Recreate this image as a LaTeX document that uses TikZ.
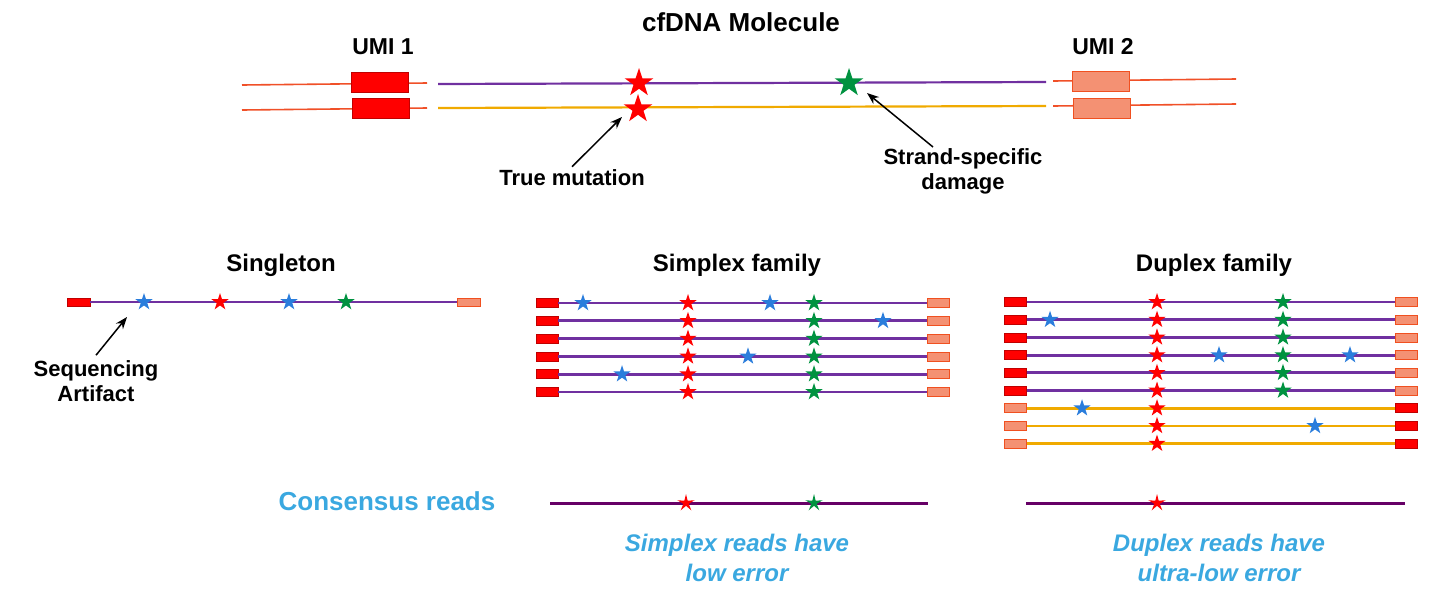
\documentclass[tikz,border=0pt]{standalone}
\usepackage{fontspec}
\setmainfont{Liberation Sans}
\usetikzlibrary{shapes.geometric,arrows.meta}
\definecolor{umired}{RGB}{255,0,0}
\definecolor{umiedge}{RGB}{192,0,0}
\definecolor{salmon}{RGB}{244,145,115}
\definecolor{salmonedge}{RGB}{240,80,32}
\definecolor{adapter}{RGB}{240,80,40}
\definecolor{topstrand}{RGB}{112,48,160}
\definecolor{botstrand}{RGB}{240,170,0}
\definecolor{consline}{RGB}{102,0,102}
\definecolor{damgreen}{RGB}{0,146,64}
\definecolor{errblue}{RGB}{42,125,220}
\definecolor{noteblue}{RGB}{58,168,224}
\begin{document}
\begin{tikzpicture}[x=1pt,y=-1pt,
    umiA/.style={draw=umiedge,fill=umired,line width=0.8pt,minimum width=22pt,minimum height=9pt,inner sep=0pt},
    umiB/.style={draw=salmonedge,fill=salmon,line width=0.8pt,minimum width=22pt,minimum height=9pt,inner sep=0pt},
    bigumi/.style={minimum width=57pt,minimum height=20pt},
    mut/.style={star,star points=5,star point ratio=2.6,inner sep=0pt,minimum size=18pt,fill=#1},
    bigmut/.style={mut=#1,minimum size=30pt},
    consmut/.style={mut=#1,star point ratio=3.2,minimum size=18pt},
    adapt/.style={adapter,line width=1.6pt},
    wline/.style={topstrand,line width=2.2pt},
    cline/.style={botstrand,line width=2.2pt},
    readw/.style={topstrand,line width=2.8pt},
    readc/.style={botstrand,line width=2.8pt},
    consread/.style={consline,line width=3pt},
    title/.style={font=\fontsize{24}{28}\selectfont\bfseries,inner sep=0pt},
    lbl/.style={font=\fontsize{22}{25}\selectfont\bfseries,align=center,inner sep=1pt},
    note/.style={font=\fontsize{24}{30}\selectfont\bfseries\itshape,text=noteblue,align=center,inner sep=0pt},
    pointer/.style={-{Stealth[length=12pt,width=9pt]},line width=1.5pt}]
\useasboundingbox (0,0) rectangle (1455,614);

% the cfDNA molecule
\node[title,font=\fontsize{26}{30}\selectfont\bfseries] (mol) at (741,22) {cfDNA Molecule};
\node[title,font=\fontsize{23}{28}\selectfont\bfseries] (u1) at (383,47) {UMI 1};
\node[title,font=\fontsize{23}{28}\selectfont\bfseries] (u2) at (1103,47) {UMI 2};
\coordinate (a1) at (242,85); \coordinate (a2) at (427,83);
\coordinate (a3) at (242,110); \coordinate (a4) at (427,108);
\coordinate (b1) at (1053,81); \coordinate (b2) at (1236,79);
\coordinate (b3) at (1053,106); \coordinate (b4) at (1236,104);
\coordinate (w1) at (438,84); \coordinate (w2) at (1046,82);
\coordinate (c1) at (438,108); \coordinate (c2) at (1046,106);
\draw[adapt] (a1) -- (a2);
\draw[adapt] (a3) -- (a4);
\draw[adapt] (b1) -- (b2);
\draw[adapt] (b3) -- (b4);
\draw[wline] (w1) -- (w2);
\draw[cline] (c1) -- (c2);
\node[umiA,bigumi] (k1) at (380,82) {};
\node[umiA,bigumi] (k2) at (380.5,108) {};
\node[umiB,bigumi] (k3) at (1101,81) {};
\node[umiB,bigumi] (k4) at (1102,108) {};
\node[bigmut=umired] (tw) at (639,83) {};
\node[bigmut=umired] (tc) at (638,109) {};
\node[bigmut=damgreen] (dw) at (849,83) {};
\node[lbl] (tm) at (572,178) {True mutation};
\node[lbl] (sd) at (963,171) {Strand-specific\\damage};
\coordinate (tmtip) at (622,117);
\coordinate (sdtip) at (867,93);
\draw[pointer] ([yshift=2pt]tm.north) -- (tmtip);
\draw[pointer] ([xshift=-30pt]sd.north) -- (sdtip);

% singleton
\node[title] (sgt) at (281,265) {Singleton};
\node[umiA,minimum width=23pt,minimum height=8pt] (gl) at (78.5,302) {};
\node[umiB,minimum width=23pt,minimum height=8pt] (gr) at (469,302) {};
\draw[readw] (gl) -- (gr);
\node[mut=errblue] (g1) at (144,302) {};
\node[mut=umired] (g2) at (220,302) {};
\node[mut=errblue] (g3) at (289,302) {};
\node[mut=damgreen] (g4) at (346,302) {};
\node[lbl] (sa) at (96,381) {Sequencing\\Artifact};
\coordinate (satip) at (127,317);
\draw[pointer] ([yshift=4pt]sa.north) -- (satip);

% simplex family
\node[title] (smp) at (737,265) {Simplex family};
\foreach \i in {0,...,5}{
  \pgfmathsetmacro\yy{303+17.8*\i}
  \node[umiA] (sl\i) at (547,\yy) {};
  \node[umiB] (sr\i) at (938,\yy) {};
  \draw[readw] (sl\i) -- (sr\i);
  \node[mut=umired] (sm\i) at (688,\yy) {};
  \node[mut=damgreen] (sg\i) at (814,\yy) {};
}
\foreach \xx/\i [count=\n] in {583/0,770/0,883/1,748/3,622/4}
  \node[mut=errblue] (se\n) at (\xx,303+17.8*\i) {};

% duplex family
\node[title] (dup) at (1214,265) {Duplex family};
\foreach \i in {0,...,5}{
  \pgfmathsetmacro\yy{302+17.7*\i}
  \node[umiA] (dl\i) at (1015.5,\yy) {};
  \node[umiB] (dr\i) at (1406,\yy) {};
  \draw[readw] (dl\i) -- (dr\i);
  \node[mut=umired] (dm\i) at (1157,\yy) {};
  \node[mut=damgreen] (dg\i) at (1283,\yy) {};
}
\foreach \i in {6,7,8}{
  \pgfmathsetmacro\yy{302+17.7*\i}
  \node[umiB] (dl\i) at (1015.5,\yy) {};
  \node[umiA] (dr\i) at (1406,\yy) {};
  \draw[readc] (dl\i) -- (dr\i);
  \node[mut=umired] (dm\i) at (1157,\yy) {};
}
\foreach \xx/\i [count=\n] in {1050/1,1219/3,1350/3,1082/6,1315/7}
  \node[mut=errblue] (de\n) at (\xx,302+17.7*\i) {};

% consensus reads
\node[title,font=\fontsize{26}{30}\selectfont\bfseries,text=noteblue] (cr) at (387,501) {Consensus reads};
\coordinate (cs1) at (550,503); \coordinate (cs2) at (928,503);
\coordinate (cd1) at (1026,503); \coordinate (cd2) at (1405,503);
\draw[consread] (cs1) -- (cs2);
\draw[consread] (cd1) -- (cd2);
\node[consmut=umired] (csm) at (686,503) {};
\node[consmut=damgreen] (csg) at (814,503) {};
\node[consmut=umired] (cdm) at (1157,503) {};
\node[note] (sn) at (737,558) {Simplex reads have\\low error};
\node[note] (dn) at (1219,558) {Duplex reads have\\ultra-low error};
\end{tikzpicture}
\end{document}
